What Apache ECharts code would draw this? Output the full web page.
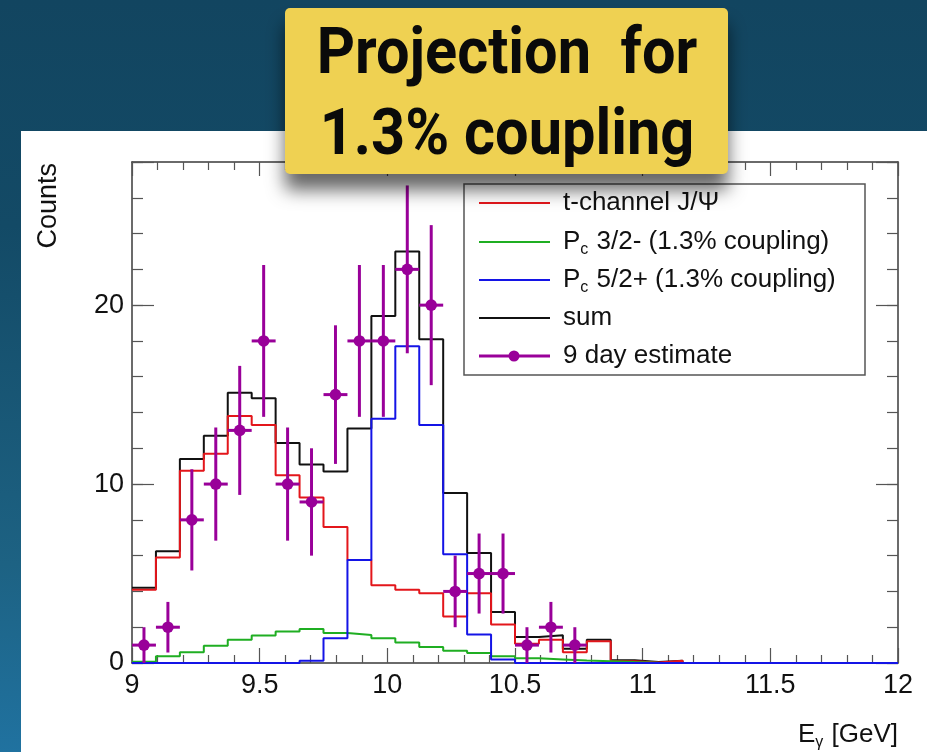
<!DOCTYPE html>
<html>
<head>
<meta charset="utf-8">
<script src="https://cdn.jsdelivr.net/npm/echarts@6/dist/echarts.min.js"></script>
<style>
  html, body { margin: 0; padding: 0; background: #124560; }
  #chart { width: 927px; height: 752px; }
</style>
</head>
<body>
<div id="chart"></div>
<script>
// ---- histogram definition (32 bins, 9 - 12 GeV) ----
const nBins = 32;
const xLo = 9;
const xHi = 12;

// ---- series values (counts per bin) ----
const tChannel = [4.1, 5.9, 10.75, 11.7, 13.8, 13.3, 10.5, 9.25, 7.6, 5.75, 4.35, 4.1, 3.9, 2.6, 3.9, 2.15,
                  1.07, 1.3, 0.6, 1.22, 0.1, 0.03, 0.13, 0, 0, 0, 0, 0, 0, 0, 0, 0];
const pc32 = [0.07, 0.38, 0.6, 0.97, 1.3, 1.53, 1.76, 1.9, 1.67, 1.57, 1.39, 1.15, 0.9, 0.69, 0.56, 0.38,
              0.26, 0.2, 0.14, 0.1, 0.05, 0.02, 0, 0, 0, 0, 0, 0, 0, 0, 0, 0];
const pc52 = [0, 0, 0, 0, 0, 0, 0, 0.13, 1.39, 5.75, 13.65, 17.7, 13.3, 6.08, 1.59, 0.19,
              0, 0, 0, 0, 0, 0, 0, 0, 0, 0, 0, 0, 0, 0, 0, 0];
const sumHist = [4.2, 6.25, 11.4, 12.7, 15.1, 14.8, 12.3, 11.1, 10.7, 13.1, 19.4, 23.0, 18.1, 9.5, 6.15, 2.85,
                 1.45, 1.55, 0.8, 1.3, 0.15, 0.05, 0.13, 0, 0, 0, 0, 0, 0, 0, 0, 0];
const estimate9day = [1, 2, 8, 10, 13, 18, 10, 9, 15, 18, 18, 22, 20, 4, 5, 5,
                      1, 2, 1, 0, 0, 0, 0, 0, 0, 0, 0, 0, 0, 0, 0, 0];

// ---- labels ----
const titleLines = ['Projection  for', '1.3% coupling'];
const legendLabels = ['t-channel J/\u03A8', 'P{s|c} 3/2- (1.3% coupling)', 'P{s|c} 5/2+ (1.3% coupling)', 'sum', '9 day estimate'];
const seriesNames = ['t-channel J/\u03A8', 'Pc 3/2- (1.3% coupling)', 'Pc 5/2+ (1.3% coupling)', 'sum', '9 day estimate'];
const yTickLabels = [0, 10, 20];
const xAxisTitle = 'E{s|\u03B3} [GeV]';
const yAxisTitle = 'Counts';

const colors = { red: '#e3161b', green: '#1fae22', blue: '#1414e6', black: '#111111', purple: '#990099' };

// ---- derived ----
const binWidth = (xHi - xLo) / nBins;
const binEdges = Array.from({ length: nBins + 1 }, (_, i) => xLo + i * binWidth);
function stepData(vals) {
  return binEdges.map((e, i) => [e, vals[Math.min(i, nBins - 1)]]);
}
const pointData = [];
estimate9day.forEach((n, i) => {
  if (n > 0) pointData.push([binEdges[i] + binWidth / 2, n, Math.sqrt(n), binWidth / 2]);
});

const chart = echarts.init(document.getElementById('chart'), null, { renderer: 'canvas' });
const FONT = 'Liberation Sans';
const axisColor = '#3a3a3a';

function stepSeries(name, vals, color, z) {
  return {
    name: name, type: 'line', step: 'end', data: stepData(vals),
    symbol: 'none', xAxisIndex: 0, yAxisIndex: 0, z: z,
    lineStyle: { color: color, width: 2 }, itemStyle: { color: color },
    silent: true, animation: false
  };
}

const legendRowsY = [203, 242, 280, 318, 356];
const legendColors = [colors.red, colors.green, colors.blue, colors.black, colors.purple];
const legendGraphics = [{
  type: 'rect', shape: { x: 464, y: 184, width: 401, height: 191 },
  style: { fill: '#ffffff', stroke: '#555555', lineWidth: 1.5 }, z: 50
}];
legendLabels.forEach((lab, i) => {
  legendGraphics.push({
    type: 'line', shape: { x1: 479, y1: legendRowsY[i], x2: 550, y2: legendRowsY[i] },
    style: { stroke: legendColors[i], lineWidth: i === 4 ? 3 : 2 }, z: 51
  });
  if (i === 4) {
    legendGraphics.push({
      type: 'circle', shape: { cx: 514, cy: legendRowsY[i], r: 5.5 },
      style: { fill: legendColors[i] }, z: 52
    });
  }
  legendGraphics.push({
    type: 'text', x: 563, y: legendRowsY[i], z: 51,
    style: {
      text: lab, fill: '#111', fontSize: 26, fontFamily: FONT,
      verticalAlign: 'middle', align: 'left',
      rich: { s: { fontSize: 16, fontFamily: FONT, fill: '#111', padding: [16, 1, 0, 0] } }
    }
  });
});

const option = {
  animation: false,
  backgroundColor: 'transparent',
  grid: { left: 132, top: 162, right: 29, bottom: 89, containLabel: false, outerBoundsMode: 'none' },
  xAxis: [
    {
      type: 'value', min: xLo, max: xHi, interval: 0.5, position: 'bottom',
      axisLine: { show: true, onZero: false, lineStyle: { color: axisColor, width: 1.5 } },
      axisTick: { show: true, inside: true, length: 15, lineStyle: { color: '#555', width: 1.2 } },
      minorTick: { show: true, splitNumber: 5, length: 8, lineStyle: { color: '#555', width: 1.2 } },
      splitLine: { show: false }, minorSplitLine: { show: false },
      axisLabel: { show: true, margin: 9, fontSize: 27, fontFamily: FONT, color: '#111' }
    },
    {
      type: 'value', min: xLo, max: xHi, interval: 0.5, position: 'top',
      axisLine: { show: true, onZero: false, lineStyle: { color: axisColor, width: 1.5 } },
      axisTick: { show: true, inside: true, length: 14, lineStyle: { color: '#555', width: 1.2 } },
      minorTick: { show: true, splitNumber: 5, length: 8, lineStyle: { color: '#555', width: 1.2 } },
      splitLine: { show: false }, axisLabel: { show: false }
    }
  ],
  yAxis: [
    {
      type: 'value', min: 0, max: 28, interval: 10, position: 'left',
      axisLine: { show: true, onZero: false, lineStyle: { color: axisColor, width: 1.5 } },
      axisTick: { show: true, inside: true, length: 22, lineStyle: { color: '#555', width: 1.2 } },
      splitLine: { show: false },
      axisLabel: {
        show: true, margin: 8, fontSize: 27, fontFamily: FONT, color: '#111',
        formatter: v => (yTickLabels.indexOf(v) >= 0 ? String(v) : '')
      }
    },
    {
      type: 'value', min: 0, max: 28, interval: 2, position: 'left',
      axisLine: { show: false },
      axisTick: { show: true, inside: true, length: 11, lineStyle: { color: '#555', width: 1.2 } },
      splitLine: { show: false }, axisLabel: { show: false }
    },
    {
      type: 'value', min: 0, max: 28, interval: 10, position: 'right',
      axisLine: { show: true, onZero: false, lineStyle: { color: axisColor, width: 1.5 } },
      axisTick: { show: true, inside: true, length: 22, lineStyle: { color: '#555', width: 1.2 } },
      splitLine: { show: false }, axisLabel: { show: false }
    },
    {
      type: 'value', min: 0, max: 28, interval: 2, position: 'right',
      axisLine: { show: false },
      axisTick: { show: true, inside: true, length: 11, lineStyle: { color: '#555', width: 1.2 } },
      splitLine: { show: false }, axisLabel: { show: false }
    }
  ],
  series: [
    stepSeries(seriesNames[3], sumHist, colors.black, 3),
    stepSeries(seriesNames[0], tChannel, colors.red, 4),
    stepSeries(seriesNames[1], pc32, colors.green, 5),
    stepSeries(seriesNames[2], pc52, colors.blue, 6),
    {
      name: seriesNames[4], type: 'custom', xAxisIndex: 0, yAxisIndex: 0, z: 8,
      data: pointData, silent: true,
      renderItem: function (params, api) {
        const x = api.value(0), y = api.value(1), e = api.value(2), hw = api.value(3);
        const c = api.coord([x, y]);
        const t = api.coord([x, y + e]);
        const b = api.coord([x, y - e]);
        const l = api.coord([x - hw, y]);
        const r = api.coord([x + hw, y]);
        const st = { stroke: colors.purple, lineWidth: 3 };
        return {
          type: 'group',
          children: [
            { type: 'line', shape: { x1: c[0], y1: t[1], x2: c[0], y2: b[1] }, style: st },
            { type: 'line', shape: { x1: l[0], y1: c[1], x2: r[0], y2: c[1] }, style: st },
            { type: 'circle', shape: { cx: c[0], cy: c[1], r: 5.8 }, style: { fill: colors.purple } }
          ]
        };
      }
    }
  ],
  graphic: [
    {
      type: 'rect', shape: { x: 0, y: 0, width: 927, height: 752 }, z: -100, silent: true,
      style: {
        fill: new echarts.graphic.LinearGradient(0, 0, 0, 1, [
          { offset: 0, color: '#124560' }, { offset: 0.3, color: '#134a66' },
          { offset: 0.75, color: '#1d6283' }, { offset: 1, color: '#2072a0' }
        ])
      }
    },
    {
      type: 'rect', shape: { x: 21, y: 131, width: 906, height: 621 }, z: -99, silent: true,
      style: { fill: '#ffffff' }
    },
    {
      type: 'text', x: 49, y: 163, rotation: Math.PI / 2, z: 20,
      style: { text: yAxisTitle, fontSize: 27, fontFamily: FONT, fill: '#111', align: 'right', verticalAlign: 'middle' }
    },
    {
      type: 'text', x: 898, y: 735, z: 20,
      style: {
        text: xAxisTitle, fontSize: 26, fontFamily: FONT, fill: '#111', align: 'right', verticalAlign: 'middle',
        rich: { s: { fontSize: 16, fontFamily: FONT, fill: '#111', padding: [16, 1, 0, 0] } }
      }
    },
    ...legendGraphics,
    {
      type: 'rect', shape: { x: 285, y: 8, width: 443, height: 166, r: 5 }, z: 100,
      style: {
        fill: '#efd152', shadowBlur: 18, shadowOffsetX: 0, shadowOffsetY: 16, shadowColor: 'rgba(0,0,0,0.6)'
      }
    },
    {
      type: 'text', x: 507, y: 57, z: 101, scaleX: 0.93, scaleY: 1,
      style: { text: titleLines[0], fontSize: 64, fontWeight: 'bold', fontFamily: 'Roboto', fill: '#0a0a0a', align: 'center', verticalAlign: 'middle' }
    },
    {
      type: 'text', x: 507, y: 138, z: 101, scaleX: 0.93, scaleY: 1,
      style: { text: titleLines[1], fontSize: 64, fontWeight: 'bold', fontFamily: 'Roboto', fill: '#0a0a0a', align: 'center', verticalAlign: 'middle' }
    }
  ]
};
chart.setOption(option);
</script>
</body>
</html>
